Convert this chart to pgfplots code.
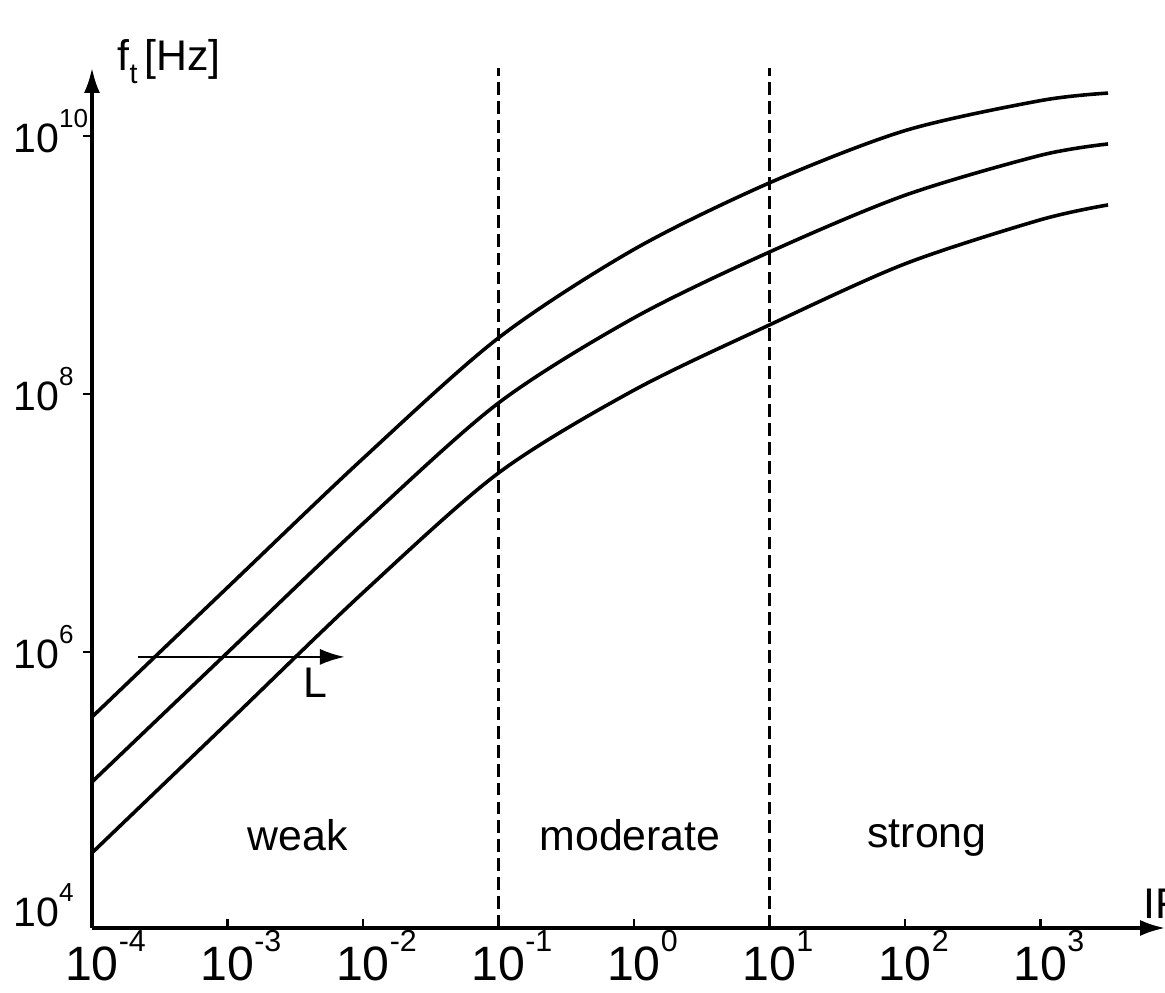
\documentclass[border=0pt]{standalone}
\usepackage{fontspec}
\setmainfont{Liberation Sans}
\usepackage{pgfplots}
\pgfplotsset{compat=1.18}
\usetikzlibrary{arrows.meta}
\newcommand{\sps}[1]{\raisebox{0.6em}{\fontsize{7.3}{8}\selectfont #1}}
\newcommand{\xsps}[1]{\rlap{\raisebox{0.6em}{\fontsize{8.5}{9}\selectfont #1}}}
\newcommand{\fs}{\fontsize{12}{14}\selectfont}
\newcommand{\fy}{\fontsize{11.5}{14}\selectfont}
\newcommand{\fx}{\fontsize{13.5}{15}\selectfont}
\begin{document}
\begin{tikzpicture}
\begin{axis}[
  at={(25.76pt,18.2pt)}, anchor=south west,
  scale only axis, width=300.44pt, height=240.8pt,
  xmode=log, ymode=log,
  xmin=1e-4, xmax=8299,
  ymin=7244, ymax=3.365e10,
  axis lines=left,
  axis line style={line width=0.85pt, -{Latex[length=7pt,width=4.5pt]}},
  xminorticks=false, yminorticks=false,
  tick align=inside,
  major tick length=2.5pt,
  tick style={line width=0.8pt, black},
  ytick style={xshift=-2.5pt},
  xtick={1e-4,1e-3,1e-2,1e-1,1e0,1e1,1e2,1e3},
  xticklabels={10\xsps{-4},10\xsps{-3},10\xsps{-2},10\xsps{-1},10\xsps{0},10\xsps{1},10\xsps{2},10\xsps{3}},
  x tick label style={font=\fx, anchor=base, inner sep=0pt, yshift=-14.8pt},
  ytick={1e6,1e8,1e10},
  yticklabels={10\sps{6},10\sps{8},10\sps{10}},
  extra y ticks={1e4},
  extra y tick labels={10\sps{4}},
  extra y tick style={major tick length=0pt},
  y tick label style={font=\fy, anchor=base west, inner sep=0pt, xshift=-22.2pt, yshift=-4.6pt},
  clip=false,
]
\addplot[smooth, line width=1pt] table {
x y
1e-4 3.13e5
1e-3 3.16e6
1e-2 3.16e7
1e-1 2.72e8
1e0 1.32e9
1e1 4.33e9
1e2 1.10e10
1e3 1.88e10
3150 2.15e10
};
\addplot[smooth, line width=1pt] table {
x y
1e-4 9.82e4
1e-3 9.89e5
1e-2 9.89e6
1e-1 8.51e7
1e0 3.89e8
1e1 1.26e9
1e2 3.47e9
1e3 7.08e9
3150 8.67e9
};
\addplot[smooth, line width=1pt] table {
x y
1e-4 2.77e4
1e-3 2.82e5
1e-2 2.88e6
1e-1 2.44e7
1e0 1.07e8
1e1 3.43e8
1e2 1.02e9
1e3 2.24e9
3150 2.92e9
};
\draw[line width=0.6pt, dash pattern=on 3.6pt off 1.7pt] (axis cs:0.1,7244) -- (axis cs:0.1,3.365e10);
\draw[line width=0.6pt, dash pattern=on 3.6pt off 1.7pt] (axis cs:10,7244) -- (axis cs:10,3.365e10);
\draw[line width=0.75pt, -{Latex[length=7pt,width=4.5pt]}] (axis cs:2.19e-4,9.15e5) -- (axis cs:7.36e-3,9.15e5);
\end{axis}
\node[font=\fs] at (83.44pt,44.24pt) {weak};
\node[font=\fs] at (176.4pt,44.24pt) {moderate};
\node[font=\fs] at (259.56pt,43.4pt) {strong};
\node[font=\fs] at (88.2pt,86.8pt) {L};
\node[font=\fs, anchor=base west, inner sep=0pt] at (320.04pt,20.72pt) {IF};
\node[font=\fs, anchor=west, inner sep=0pt] at (32.76pt,260.68pt) {f\raisebox{-0.3em}{\fontsize{8}{8}\selectfont t}\,[Hz]};
\pgfresetboundingbox
\path[use as bounding box] (0,0) rectangle (326.2pt,278.04pt);
\end{tikzpicture}
\end{document}
